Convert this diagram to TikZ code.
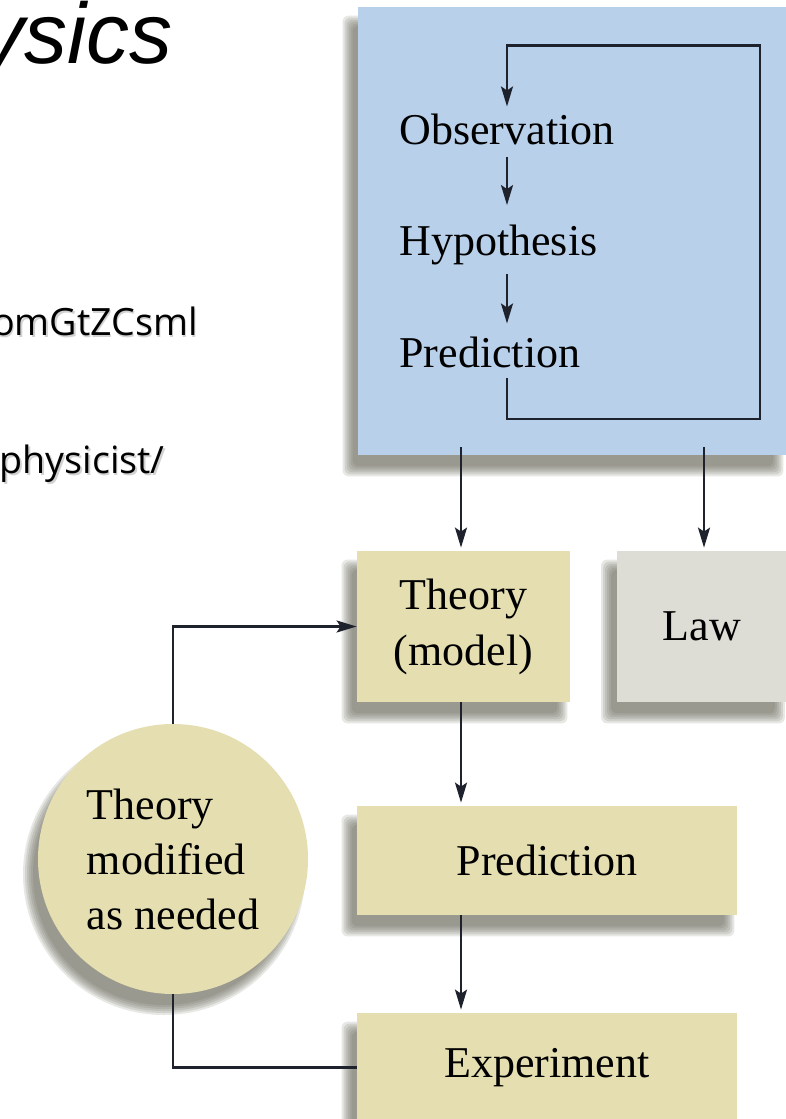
\documentclass[tikz,border=0pt]{standalone}
\usepackage{fontspec}
\setmainfont{Liberation Serif}
\newfontfamily\titlefont{Liberation Sans}
\newfontfamily\urlfont{Open Sans}
\usetikzlibrary{arrows.meta,backgrounds,calc}
\definecolor{bluebg}{RGB}{184,208,234}
\definecolor{khaki}{RGB}{228,222,176}
\definecolor{lawgray}{RGB}{221,221,213}
\definecolor{inkc}{RGB}{30,34,44}
\definecolor{shadowc}{RGB}{95,95,80}
\tikzset{
  conn/.style={draw=inkc, line width=1.1pt},
  conna/.style={conn, -{Stealth[length=10pt,width=6pt,inset=2pt]}},
  lbl/.style={inner sep=0pt, font=\fontsize{22}{28}\selectfont},
  boxnode/.style={rectangle, inner sep=0pt, align=center, font=\fontsize{22}{28}\selectfont},
  urltext/.style={anchor=base east, inner sep=0pt, font=\urlfont\fontsize{18.8}{22}\selectfont},
}
\newcommand\rectshadow[1]{%
  \foreach \e in {-4,-2,0,2,4,6}{%
    \fill[shadowc,opacity=0.15,rounded corners=3pt]
      ($(#1.south west)+(-9-\e,15+\e)$) rectangle ($(#1.north east)+(-9+\e,15-\e)$);}}
\begin{document}
\begin{tikzpicture}[x=0.5pt,y=-0.5pt]
\useasboundingbox (0,0) rectangle (786,1119);
\begin{pgfonlayer}{background}
\fill[white] (0,0) rectangle (786,1119);
\end{pgfonlayer}

% left slide fragments
\node[anchor=base east, inner sep=0pt, font=\titlefont\itshape\fontsize{43}{50}\selectfont] (title) at (173,63) {ysics};
\node[urltext, text=black!35, opacity=0.5] (u1s) at (199.5,337) {omGtZCsml};
\node[urltext] (u1) at (198,335) {omGtZCsml};
\node[urltext, text=black!35, opacity=0.5] (u2s) at (166.5,475) {physicist/};
\node[urltext] (u2) at (165,473) {physicist/};

% blue box
\node[rectangle, fill=bluebg, minimum width=214pt, minimum height=224pt, inner sep=0pt] (blue) at (572,231) {};
\node[lbl, anchor=base west] (obs) at (399,144) {Observation};
\node[lbl, anchor=base west] (hyp) at (399,255) {Hypothesis};
\node[lbl, anchor=base west] (pred1) at (399,367) {Prediction};

% lower boxes
\node[boxnode, fill=khaki, minimum width=106.5pt, minimum height=75.5pt] (theory) at (463.5,626.5) {Theory\\(model)};
\node[boxnode, fill=lawgray, minimum width=85.5pt, minimum height=75.5pt] (law) at (702,626.5) {Law};
\node[boxnode, fill=khaki, minimum width=190pt, minimum height=54.5pt] (pred2) at (547,860.5) {Prediction};
\node[boxnode, fill=khaki, minimum width=190pt, minimum height=54.5pt] (exp) at (547,1067.5) {Experiment};
\node[circle, fill=khaki, minimum size=135pt, inner sep=0pt, align=left, font=\fontsize{22}{27.5}\selectfont] (circ) at (173,859) {Theory\\modified\\as needed};

% shadows
\begin{pgfonlayer}{background}
\rectshadow{blue}
\rectshadow{theory}
\rectshadow{law}
\rectshadow{pred2}
\rectshadow{exp}
\foreach \e in {-4,-2,0,2,4,6}{%
  \fill[shadowc,opacity=0.15] ($(circ.center)+(-9,15)$) circle[radius={(135+\e)*0.5pt}];}
\end{pgfonlayer}

% connectors inside the blue box
\draw[conna] ($(pred1.south west)+(108,10)$) -- ++(0,41) -| ($(obs.north west)+(361,-67.6)$) -| ($(obs.north west)+(108,-6.6)$);
\draw[conna] ($(obs.south west)+(108,12)$) -- ($(hyp.north west)+(108,-19)$);
\draw[conna] ($(hyp.south west)+(108,9)$) -- ($(pred1.north west)+(108,-12.6)$);

% connectors below
\draw[conna] ($(blue.south -| theory.north)+(-2.5,-8)$) -- ($(theory.north)+(-2.5,-3)$);
\draw[conna] ($(blue.south -| law.north)+(2,-8)$) -- ($(law.north)+(2,-3)$);
\draw[conna] ($(theory.south)+(-2.5,0)$) -- ($(theory.south |- pred2.north)+(-2.5,-3)$);
\draw[conna] ($(pred2.south -| theory.south)+(-2.5,0)$) -- ($(exp.north -| theory.south)+(-2.5,-3)$);
\draw[conna] (circ.north) |- (theory.west);
\draw[conn] (circ.south) |- (exp.west);
\end{tikzpicture}
\end{document}
